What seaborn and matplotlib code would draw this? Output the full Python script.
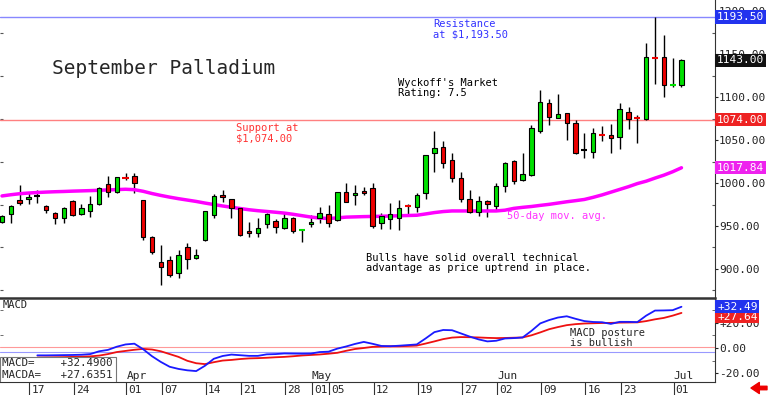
import numpy as np
import pandas as pd
import seaborn as sns
import matplotlib.pyplot as plt
from matplotlib.patches import Rectangle
from matplotlib.ticker import FormatStrFormatter, MultipleLocator

# daily OHLC, September palladium, Mar 12 - Jul 2 2025
opens = [955, 964, 980, 981.5, 984.5, 973, 965, 959, 979, 964,
         967.5, 975.5, 999, 989.5, 1006.5, 1008, 980, 937, 908, 910.5,
         895.5, 925.5, 913, 933.5, 963, 986, 981.5, 971, 944, 942,
         952.5, 956, 947.5, 959, 944, 952.5, 959, 964, 957, 989.5,
         986, 990.5, 994, 953.5, 958, 959, 974.5, 972, 988.5, 1035,
         1042, 1026.5, 1006, 981.5, 966.5, 979, 973.5, 997, 1025.5, 1003.5,
         1009.5, 1060.5, 1093, 1075.5, 1081.5, 1070, 1038.5, 1036, 1057.5, 1055.5,
         1053.5, 1082.5, 1076.5, 1074.5, 1147, 1146.5, 1113, 1114]
highs = [963, 974, 997.5, 988.5, 992, 974, 966, 972, 980, 975.5,
         985, 995, 1008, 1007.5, 1011.5, 1011.5, 980.5, 938, 928, 915,
         922, 930, 923, 968, 987, 992, 982, 972, 954.5, 959,
         965, 958, 965, 960, 945, 963, 972, 974.5, 990, 1000,
         997.5, 995, 1000, 965, 976.5, 980, 975.5, 988.5, 1033, 1060.5,
         1049, 1035, 1013, 992, 985, 980, 1000, 1024.5, 1027, 1035,
         1067.5, 1108, 1097.5, 1103.5, 1081.5, 1073, 1058, 1064, 1066, 1068.5,
         1093, 1088.5, 1079, 1163, 1193.5, 1173, 1145.5, 1144.5]
lows = [953, 953.5, 974.5, 975.5, 977, 965, 952.5, 953.5, 962, 963,
        960.5, 975, 984, 989, 1003.5, 988.5, 933.5, 917.5, 881.5, 890.5,
        889.5, 900, 911.5, 932, 959.5, 978, 959.5, 938, 937, 937,
        947.5, 942, 946, 942, 931.5, 949, 953.5, 949, 956, 978,
        974.5, 986, 947.5, 946.5, 946.5, 945, 963, 966, 981.5, 1013,
        1017.5, 1001, 978, 965, 961.5, 960.5, 968.5, 989.5, 999, 1002.5,
        1008, 1058, 1067.5, 1075.5, 1050, 1034, 1029, 1029, 1049, 1035,
        1039.5, 1063, 1046.5, 1074, 1116, 1100, 1111.5, 1111.5]
closes = [962, 973, 977, 984, 984.5, 968.5, 959, 971, 963, 971,
          975.5, 994, 989.5, 1007, 1005.5, 1000, 937, 920, 902, 893,
          916, 911.5, 916, 967.5, 985, 983.5, 971, 939.5, 942, 947.5,
          964, 949, 959, 944, 944.8, 954.5, 965, 953.5, 989.5, 978,
          988, 988.5, 950, 961.5, 964, 971, 973.5, 986, 1032.5, 1041,
          1023.5, 1006, 981.5, 966.5, 979, 975.5, 996.5, 1023, 1002.5, 1010.5,
          1064, 1094, 1076.5, 1080, 1070, 1035, 1038.5, 1058, 1056.5, 1052.5,
          1086, 1074.5, 1075.5, 1146.5, 1146, 1114, 1114, 1143]

ma50 = [985.0, 986.4, 987.6, 988.4, 989.0, 989.5, 989.9, 990.2, 990.6, 990.9,
        991.2, 991.6, 992.0, 992.4, 992.8, 992.3, 990.4, 987.8, 985.6, 983.6,
        981.8, 980.2, 978.6, 976.7, 975.0, 973.3, 971.8, 970.3, 968.9, 967.8,
        966.9, 966.0, 965.0, 963.6, 962.0, 960.4, 959.2, 958.7, 959.4, 960.3,
        960.6, 960.9, 961.1, 961.3, 961.6, 961.9, 962.2, 962.5, 964.0, 965.6,
        966.8, 967.5, 967.5, 967.5, 967.5, 967.5, 967.5, 968.4, 970.5, 971.7,
        972.7, 974.0, 975.2, 976.7, 978.2, 979.5, 980.9, 983.4, 986.2, 989.4,
        992.6, 995.8, 999.4, 1002.2, 1005.8, 1009.2, 1013.2, 1017.84]

# MACD and its average, from the 5th session on
macd = [-5.8, -5.8, -5.7, -5.6, -5.5, -5.3, -4.8, -2.6, -1.5, 1.0,
        2.8, 3.4, -1.0, -6.5, -11.0, -14.8, -16.5, -17.6, -18.2, -14.0,
        -8.5, -6.3, -5.2, -5.7, -6.2, -6.2, -5.0, -4.8, -4.3, -4.4,
        -4.5, -4.4, -3.2, -2.9, -0.5, 1.2, 3.2, 4.8, 3.3, 1.6,
        1.4, 1.8, 2.3, 2.8, 7.5, 12.5, 14.2, 14.0, 11.5, 9.0,
        6.8, 5.2, 5.7, 7.5, 7.8, 8.3, 13.5, 19.4, 22.0, 24.0,
        25.0, 23.0, 21.2, 20.5, 20.3, 19.0, 20.6, 20.6, 20.4, 25.5,
        29.5, 29.6, 29.8, 32.49]
macd_avg = [-7.5, -7.4, -7.3, -7.2, -7.0, -6.8, -6.6, -6.0, -4.8, -3.2,
            -2.3, -1.4, -0.7, -1.2, -2.6, -4.8, -7.0, -10.1, -12.0, -12.7,
            -11.2, -9.9, -9.4, -8.7, -8.2, -8.0, -7.7, -7.3, -7.0, -6.5,
            -5.9, -5.5, -5.1, -4.5, -3.8, -2.2, -0.8, 0.0, 0.9, 1.2,
            1.4, 1.4, 1.6, 1.9, 3.5, 5.2, 7.0, 8.2, 8.6, 8.5,
            8.3, 8.0, 7.8, 7.9, 8.1, 8.3, 10.0, 12.3, 14.8, 16.5,
            18.0, 18.8, 19.3, 19.5, 19.7, 19.8, 20.0, 20.1, 20.2, 21.2,
            22.6, 23.7, 25.5, 27.64]

holidays = ["2025-04-18", "2025-05-26", "2025-06-19"]
tick_dates = ["2025-03-17", "2025-03-24", "2025-04-01", "2025-04-07", "2025-04-14",
              "2025-04-21", "2025-04-28", "2025-05-01", "2025-05-05", "2025-05-12",
              "2025-05-19", "2025-05-27", "2025-06-02", "2025-06-09", "2025-06-16",
              "2025-06-23", "2025-07-01"]
month_dates = ["2025-04-01", "2025-05-01", "2025-06-02", "2025-07-01"]
resistance = 1193.50
support = 1074.00

sns.set_style("white")
plt.rcParams["font.family"] = ["DejaVu Sans Mono"]

days = pd.bdate_range("2025-03-12", "2025-07-02")
days = days[~days.isin(pd.to_datetime(holidays))]
df = pd.DataFrame({"day": np.arange(len(days)), "open": opens, "high": highs,
                   "low": lows, "close": closes, "ma50": ma50})
mdf = pd.DataFrame({"day": df["day"].values[4:], "macd": macd, "avg": macd_avg})
pos = {d: i for i, d in enumerate(days)}

W, H = 768, 395
fig = plt.figure(figsize=(W / 100, H / 100), dpi=100)
ax = fig.add_axes([0, 1 - 297 / H, 715 / W, 297 / H])
ax2 = fig.add_axes([0, 1 - 382 / H, 715 / W, 84 / H])

GREEN = "#00e000"
RED = "#ee0000"

# price panel
ax.axhline(resistance, color="#8888ff", lw=1, zorder=1)
ax.axhline(support, color="#ff8080", lw=1, zorder=1)
ax.vlines(df["day"], df["low"], df["high"], color="black", lw=1, zorder=2)
diff = df["close"] - df["open"]
body = df[diff.abs() > 1.5]
colors = [GREEN if c > o else RED for o, c in zip(body["open"], body["close"])]
ax.bar(body["day"], (body["close"] - body["open"]).abs(),
       bottom=np.minimum(body["open"], body["close"]), width=0.5,
       color=colors, edgecolor="black", linewidth=0.8, zorder=3)
doji = df[diff.abs() <= 1.5]
dcol = [GREEN if c > o else (RED if c < o else "black")
        for o, c in zip(doji["open"], doji["close"])]
ax.hlines(doji["close"], doji["day"] - 0.35, doji["day"] + 0.35, colors=dcol, lw=1.5, zorder=3)
sns.lineplot(data=df, x="day", y="ma50", ax=ax, color="#ff00ff", lw=2.5, zorder=2)

ax.set_xlim(-0.23, 80.8)
ax.set_ylim(867.2, 1213.4)
ax.set_xlabel("")
ax.set_ylabel("")
ax.set_xticks([])
ax.yaxis.tick_right()
ax.yaxis.set_major_locator(MultipleLocator(50))
ax.yaxis.set_minor_locator(MultipleLocator(25))
ax.yaxis.set_major_formatter(FormatStrFormatter("%.2f"))
ax.tick_params(axis="y", which="major", right=True, length=2, width=0.8, pad=1,
               labelsize=8, colors="#222222")
ax.tick_params(axis="y", which="minor", left=True, right=True, length=2.5, width=0.8,
               direction="in", colors="#555555")
for s in ["top", "left", "bottom"]:
    ax.spines[s].set_visible(False)
ax.spines["right"].set_color("#333333")

txt = dict(fontsize=7.5, linespacing=1.05, transform=ax.transAxes)
ax.text(52 / 715, 1 - 68 / 297, "September Palladium", fontsize=14, va="center",
        transform=ax.transAxes)
ax.text(433 / 715, 1 - 19 / 297, "Resistance\nat $1,193.50", color="#3333ff", va="top", **txt)
ax.text(398 / 715, 1 - 78 / 297, "Wyckoff's Market\nRating: 7.5", color="black", va="top", **txt)
ax.text(236 / 715, 1 - 123 / 297, "Support at\n$1,074.00", color="#ff3333", va="top", **txt)
ax.text(507 / 715, 1 - 216 / 297, "50-day mov. avg.", color="#ff33ff", va="center", **txt)
ax.text(366 / 715, 1 - 253 / 297,
        "Bulls have solid overall technical\nadvantage as price uptrend in place.",
        color="black", va="top", **txt)


def value_tag(a, val, label, bg):
    a.text(1.003, val, label, transform=a.get_yaxis_transform(), color="white",
           fontsize=8, va="center", ha="left", clip_on=False, zorder=5,
           bbox=dict(facecolor=bg, edgecolor="none", pad=1.2))


value_tag(ax, resistance, "1193.50", "#2233ee")
value_tag(ax, closes[-1], "%.2f" % closes[-1], "#111111")
value_tag(ax, support, "1074.00", "#ee2222")
value_tag(ax, ma50[-1], "%.2f" % ma50[-1], "#ee22ee")

# MACD panel
ax2.axhline(0.6, color="#ff9999", lw=0.8)
ax2.axhline(-3.1, color="#9999ff", lw=0.8)
sns.lineplot(data=mdf, x="day", y="avg", ax=ax2, color="#ee1111", lw=1.3)
sns.lineplot(data=mdf, x="day", y="macd", ax=ax2, color="#1a1aff", lw=1.3)
ax2.set_xlim(-0.23, 80.8)
ax2.set_ylim(-26.8, 39.4)
ax2.set_xlabel("")
ax2.set_ylabel("")
ax2.yaxis.tick_right()
ax2.set_yticks([-20, 0, 20])
ax2.set_yticklabels(["-20.00", "0.00", "+20.00"])
ax2.yaxis.set_minor_locator(MultipleLocator(10))
ax2.tick_params(axis="y", which="major", right=True, length=2, width=0.8, pad=1,
                labelsize=8, colors="#222222")
ax2.tick_params(axis="y", which="minor", left=True, right=True, length=2.5,
                direction="in", colors="#555555")
tick_x = [pos[pd.Timestamp(d)] + 0.1 for d in tick_dates]
ax2.set_xticks(tick_x)
ax2.set_xticklabels([])
ax2.tick_params(axis="x", bottom=True, direction="out", length=10, width=0.8,
                colors="#333333")
ax2.spines["top"].set_linewidth(1.8)
ax2.spines["top"].set_color("#333333")
ax2.spines["left"].set_visible(False)
ax2.spines["right"].set_color("#333333")
ax2.spines["bottom"].set_color("#333333")

for d, xv in zip(tick_dates, tick_x):
    ax2.text(xv + 0.25, -0.03, pd.Timestamp(d).strftime("%d"), fontsize=8,
             va="top", ha="left", transform=ax2.get_xaxis_transform(), clip_on=False)
for d in month_dates:
    ax2.text(pos[pd.Timestamp(d)] + 0.1, 0.075, pd.Timestamp(d).strftime("%b"),
             fontsize=8, va="center", ha="left", transform=ax2.get_xaxis_transform())

ax2.text(3 / 715, 1 - 7 / 84, "MACD", fontsize=7.5, va="center", transform=ax2.transAxes)
ax2.text(570 / 715, 1 - 30 / 84, "MACD posture\nis bullish", fontsize=7.5, va="top",
         linespacing=1.05, transform=ax2.transAxes)
ax2.add_patch(Rectangle((0, 0), 116 / 715, 25 / 84, transform=ax2.transAxes,
                        facecolor="white", edgecolor="#777777", lw=0.8, zorder=4))
ax2.text(2 / 715, 1 - 65 / 84, "MACD=    %+.4f" % macd[-1], fontsize=7.8, va="center",
         transform=ax2.transAxes, zorder=5)
ax2.text(2 / 715, 1 - 77 / 84, "MACDA=   %+.4f" % 27.6351, fontsize=7.8, va="center",
         transform=ax2.transAxes, zorder=5)
value_tag(ax2, macd_avg[-1] - 3, "%+.2f" % macd_avg[-1], "#ee2222")
value_tag(ax2, macd[-1], "%+.2f" % macd[-1], "#2233ee")

ax2.annotate("", xy=(751 / W, 7 / H), xytext=(767 / W, 7 / H),
             xycoords="figure fraction", textcoords="figure fraction",
             arrowprops=dict(color="#ee0000", width=2.5, headwidth=8, headlength=6))

fig.savefig("out.png", dpi=100)
